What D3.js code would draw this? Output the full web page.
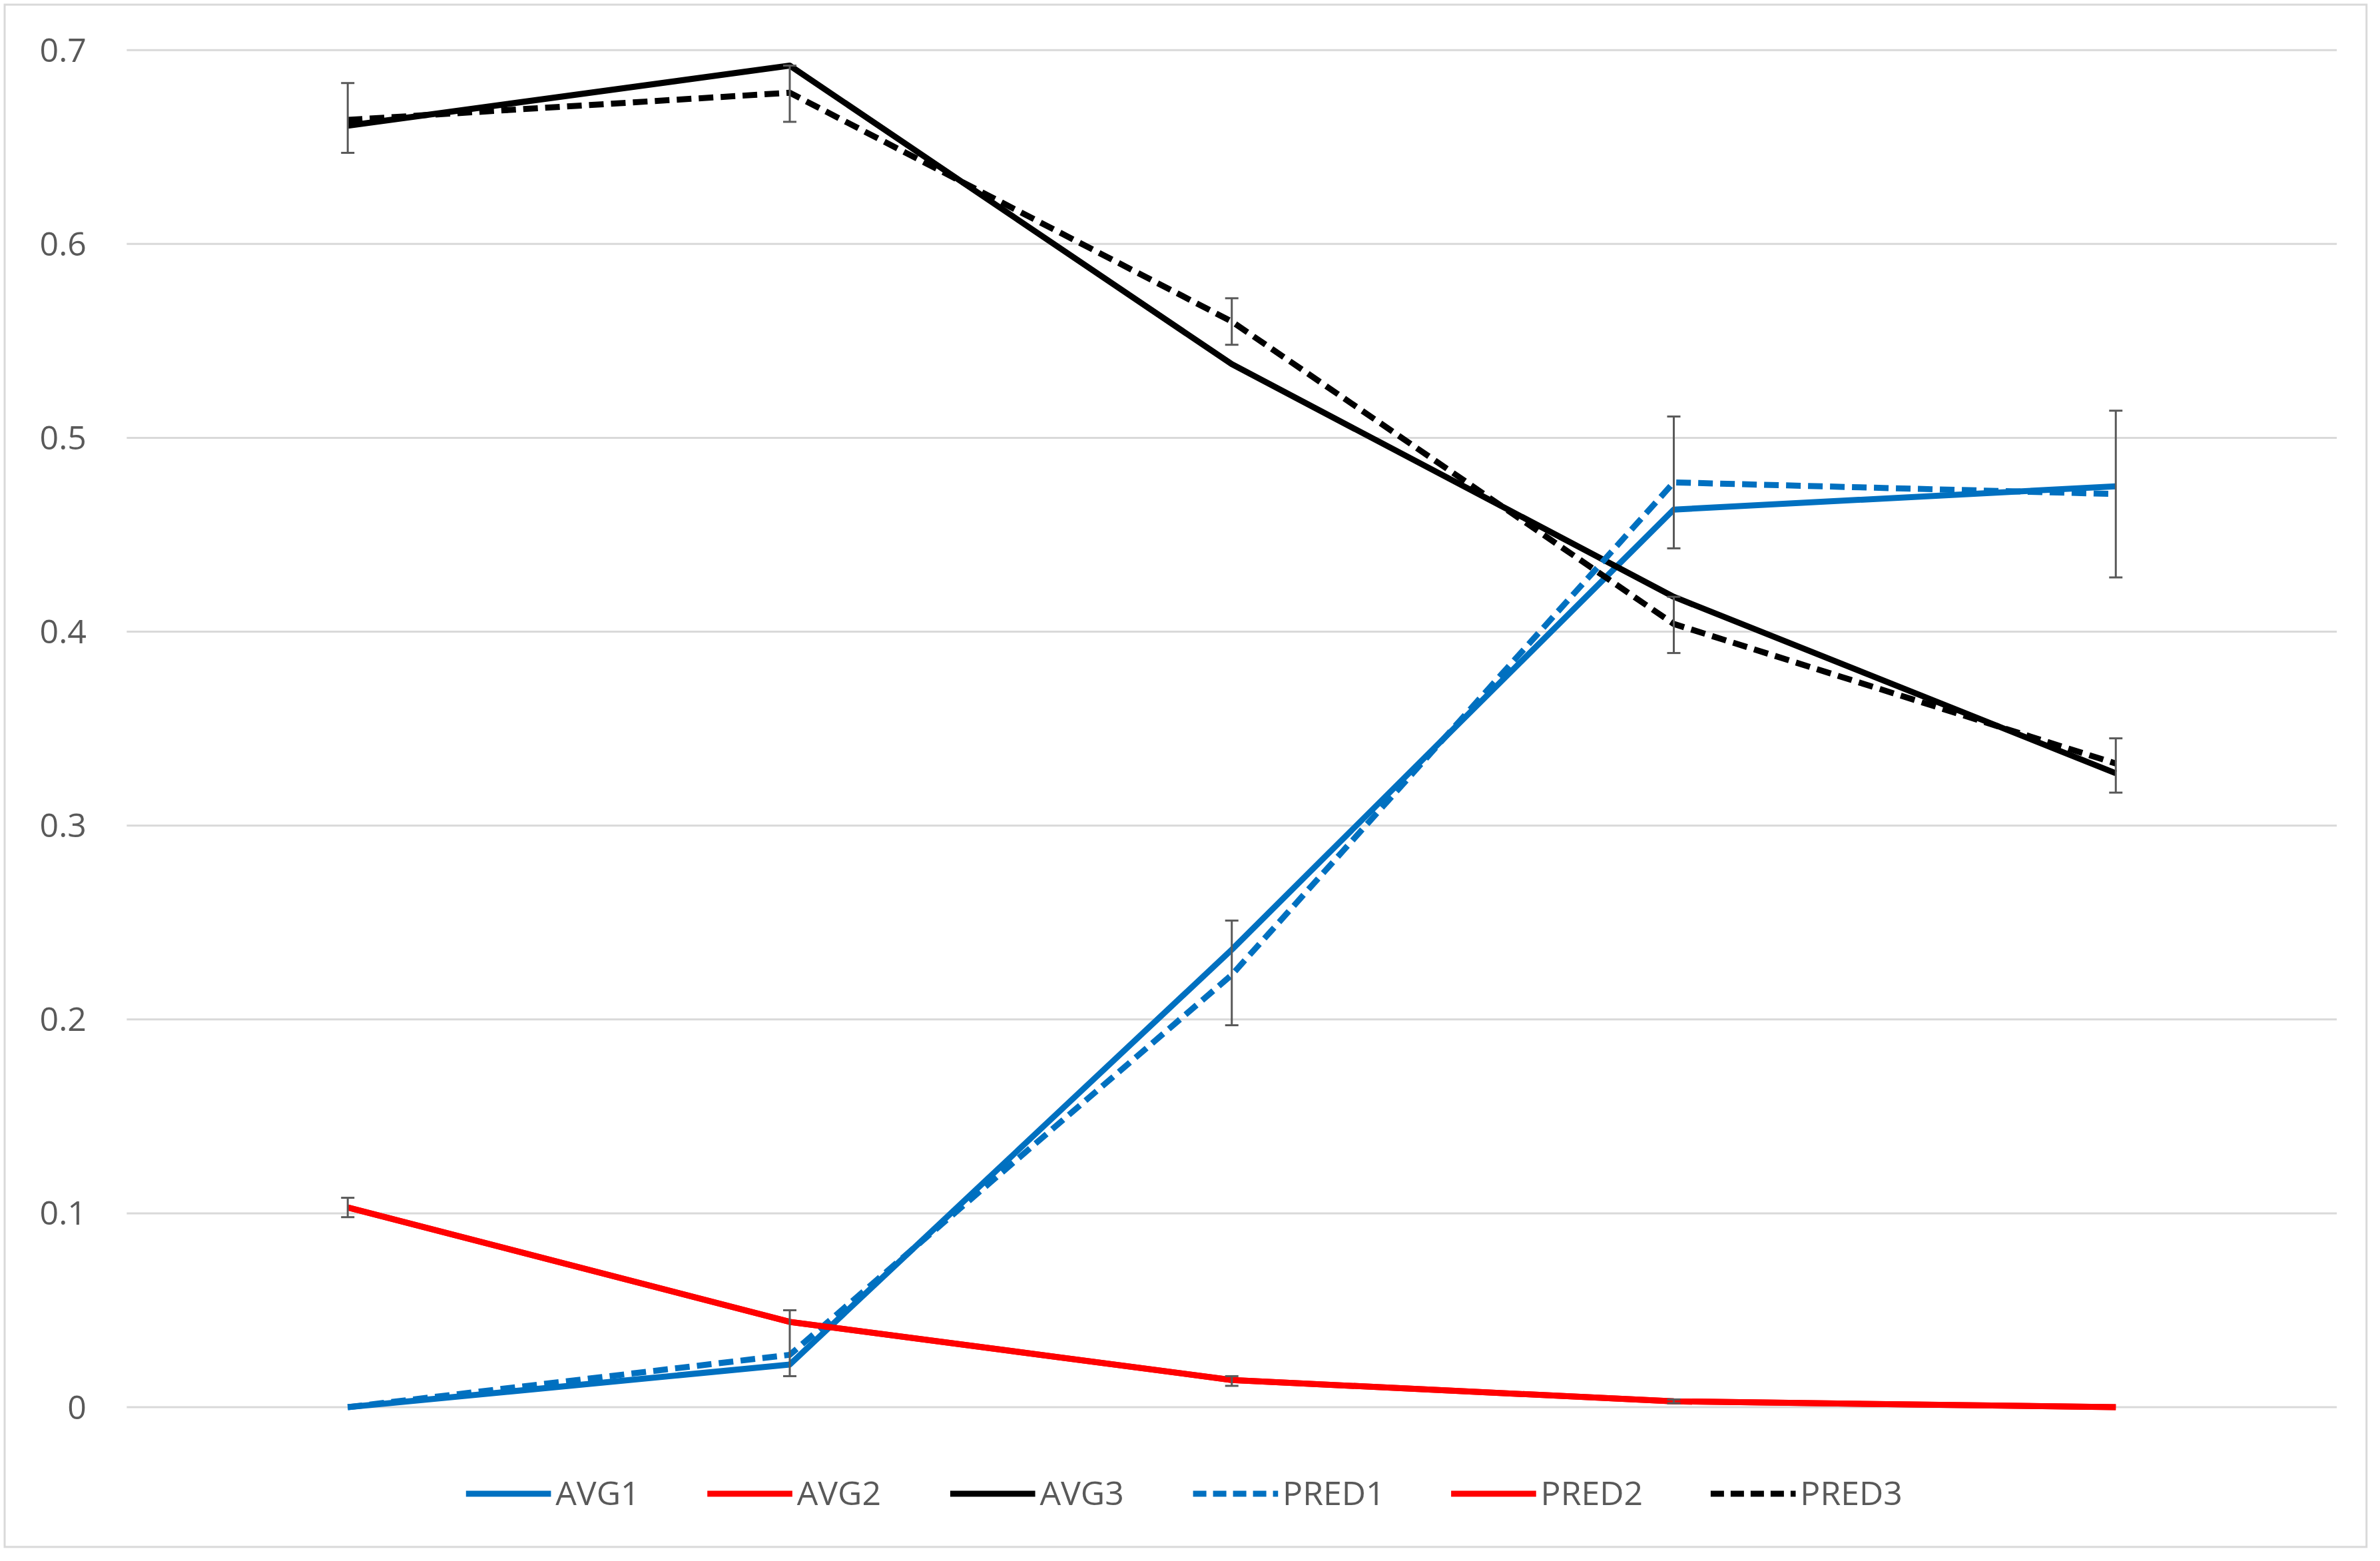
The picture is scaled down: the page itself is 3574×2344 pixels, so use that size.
<!DOCTYPE html>
<html><head><meta charset="utf-8">
<script src="https://cdn.jsdelivr.net/npm/d3@7"></script>
<style>body{margin:0;background:#fff}</style></head>
<body><div id="chart"></div>
<script>
// data
var categories = ["1", "2", "3", "4", "5"];
var avg1 = [0, 0.022, 0.236, 0.463, 0.475];
var avg2 = [0.103, 0.044, 0.014, 0.003, 0.0];
var avg3 = [0.661, 0.692, 0.538, 0.418, 0.327];
var pred1 = [0, 0.027, 0.223, 0.477, 0.471];
var pred2 = [0.103, 0.044, 0.014, 0.003, 0.0];
var pred3 = [0.664, 0.678, 0.560, 0.404, 0.332];
// error bars [category index, low, high]
var errBars = [
  [0, 0.647, 0.683], [0, 0.098, 0.108],
  [1, 0.663, 0.692], [1, 0.016, 0.050],
  [2, 0.548, 0.572], [2, 0.197, 0.251], [2, 0.011, 0.016],
  [3, 0.443, 0.511], [3, 0.389, 0.418], [3, 0.002, 0.004],
  [4, 0.428, 0.514], [4, 0.317, 0.345]
];
var yTicks = [0, 0.1, 0.2, 0.3, 0.4, 0.5, 0.6, 0.7];

var S = 2.2794;
var W = 3574, H = 2344;
var svg = d3.select("#chart").append("svg").attr("width", W).attr("height", H);
svg.append("rect").attr("x", 7).attr("y", 7).attr("width", 1556 * S).attr("height", 1016 * S)
  .attr("fill", "#fff").attr("stroke", "#d9d9d9").attr("stroke-width", 3);

var x = d3.scaleBand().domain(categories).range([83.5 * S, 1539.5 * S]);
var y = d3.scaleLinear().domain([0, 0.7]).range([927 * S, 33 * S]);
var cx = function(i) { return x(categories[i]) + x.bandwidth() / 2; };

// gridlines
svg.selectAll(".grid").data(yTicks).enter().append("line")
  .attr("x1", x.range()[0]).attr("x2", x.range()[1])
  .attr("y1", d => y(d)).attr("y2", d => y(d))
  .attr("stroke", "#d9d9d9").attr("stroke-width", 3);

// y labels
svg.selectAll(".ylab").data(yTicks).enter().append("text")
  .attr("x", 57 * S).attr("y", d => y(d)).attr("dy", "0.35em")
  .attr("text-anchor", "end").attr("font-family", "Open Sans, sans-serif")
  .attr("font-size", 50).attr("fill", "#595959")
  .text(d => d3.format("")(d));

var series = [
  {name: "AVG1", vals: avg1, color: "#0070c0", dash: null},
  {name: "AVG2", vals: avg2, color: "#ff0000", dash: null},
  {name: "AVG3", vals: avg3, color: "#000000", dash: null},
  {name: "PRED1", vals: pred1, color: "#0070c0", dash: "22,11"},
  {name: "PRED2", vals: pred2, color: "#ff0000", dash: null},
  {name: "PRED3", vals: pred3, color: "#000000", dash: "22,11"}
];

var line = d3.line().x((d, i) => cx(i)).y(d => y(d));
series.forEach(function(s) {
  svg.append("path").datum(s.vals).attr("d", line)
    .attr("fill", "none").attr("stroke", s.color).attr("stroke-width", 9)
    .attr("stroke-linejoin", "round")
    .attr("stroke-dasharray", s.dash);
});

// error bars
var eb = svg.append("g").attr("stroke", "#595959").attr("stroke-width", 3);
errBars.forEach(function(e) {
  var xx = cx(e[0]);
  eb.append("line").attr("x1", xx).attr("x2", xx).attr("y1", y(e[1])).attr("y2", y(e[2]));
  eb.append("line").attr("x1", xx - 10).attr("x2", xx + 10).attr("y1", y(e[1])).attr("y2", y(e[1]));
  eb.append("line").attr("x1", xx - 10).attr("x2", xx + 10).attr("y1", y(e[2])).attr("y2", y(e[2]));
});

// legend
var legX = [307, 466, 626, 786, 956, 1127];
var legY = 984 * S;
series.forEach(function(s, i) {
  var lx = legX[i] * S;
  svg.append("line").attr("x1", lx).attr("x2", lx + 56 * S).attr("y1", legY).attr("y2", legY)
    .attr("stroke", s.color).attr("stroke-width", 9).attr("stroke-dasharray", s.dash ? "20,10" : null);
  svg.append("text").attr("x", lx + 59 * S).attr("y", legY).attr("dy", "0.35em")
    .attr("font-family", "Open Sans, sans-serif").attr("font-size", 50).attr("fill", "#595959")
    .text(s.name);
});
</script></body></html>
